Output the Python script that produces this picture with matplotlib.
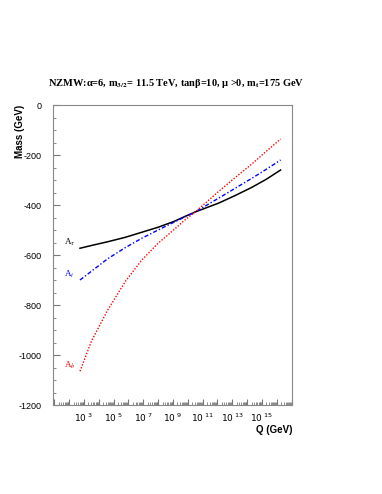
import numpy as np
import matplotlib
matplotlib.use("Agg")
import matplotlib.pyplot as plt
from matplotlib.ticker import LogLocator, FuncFormatter, MultipleLocator, NullFormatter

plt.rcParams['mathtext.fontset'] = 'stix'
plt.rcParams['axes.unicode_minus'] = False

# log10(Q / GeV)
log_q = [2.73, 3.5, 4.6, 5.8, 6.9, 8.0, 9.1, 9.8, 10.5, 12.1, 13.2, 14.3, 15.3, 16.26]
a_tau = [-573, -562, -547, -529, -509, -489, -465, -446, -428, -392, -362, -330, -297, -260]
a_t = [-700, -665, -615, -570, -533, -500, -468, -448, -428, -372, -333, -294, -257, -220]
a_b = [-1065, -945, -820, -705, -620, -553, -497, -460, -428, -345, -290, -237, -185, -136]

series_names = [r"A$_\tau$", r"A$_t$", r"A$_b$"]
series_values = [a_tau, a_t, a_b]
series_colors = ["#000000", "#0000ff", "#ff0000"]
series_styles = ["-", (0, (3, 1.5, 1, 1.5)), (0, (1, 1.2))]
series_widths = [1.1, 1.0, 1.0]

y_ticks = [0, -200, -400, -600, -800, -1000, -1200]

fig = plt.figure(figsize=(3.82, 4.94), dpi=100)
ax = fig.add_axes([53/382, 1-405/494, 239/382, 300/494])

Q = 10.0 ** np.array(log_q)
for name, vals, c, ls, lw in zip(series_names, series_values, series_colors, series_styles, series_widths):
    ax.plot(Q, vals, color=c, linestyle=ls, linewidth=lw)
    ax.text(Q[0] / 5.0, vals[0] + 22, name, color=c, fontsize=6.5,
            family='Liberation Serif', ha='center', va='center')

ax.set_xscale('log')
ax.set_xlim(10 ** 0.91, 10 ** 17.03)
ax.set_ylim(-1200, 0)

ax.xaxis.set_major_locator(LogLocator(base=10, numticks=40))
ax.xaxis.set_minor_locator(LogLocator(base=10, subs=np.arange(2, 10), numticks=40))
def fmt(v, pos):
    e = int(round(np.log10(v)))
    if e % 2 == 1 and 3 <= e <= 15:
        return r"$10^{\ %d}$" % e
    return ""
ax.xaxis.set_major_formatter(FuncFormatter(fmt))
ax.xaxis.set_minor_formatter(NullFormatter())

ax.set_yticks(y_ticks)
ax.yaxis.set_minor_locator(MultipleLocator(50))

ax.tick_params(axis='both', which='both', direction='in', top=False, right=False,
               color='#777777', labelsize=6.5)
ax.tick_params(axis='y', which='major', length=5, pad=8)
ax.tick_params(axis='y', which='minor', length=2.5)
ax.tick_params(axis='x', which='major', length=4, pad=5)
ax.tick_params(axis='x', which='minor', length=2)
for lab in ax.get_xticklabels() + ax.get_yticklabels():
    lab.set_family('Liberation Sans')
    lab.set_math_fontfamily('dejavusans')

for s in ax.spines.values():
    s.set_color('#888888')
    s.set_linewidth(0.8)

fig.text(20/382, 1-105/494, "Mass (GeV)", rotation=90, ha='center', va='top',
         fontsize=7, fontweight='bold', family='Liberation Sans')
fig.text(292/382, 1-430/494, "Q (GeV)", ha='right', va='center',
         fontsize=7, fontweight='bold', family='Liberation Sans')
fig.text(176/382, 1-83/494,
         "NZMW:α=6, m$_{\\mathbf{3/2}}$= 11.5 TeV, tanβ=10, μ >0, m$_{\\mathbf{t}}$=175 GeV",
         ha='center', va='center', fontsize=7.5, fontweight='bold', family='Liberation Serif')

fig.savefig("out.png", dpi=100)
